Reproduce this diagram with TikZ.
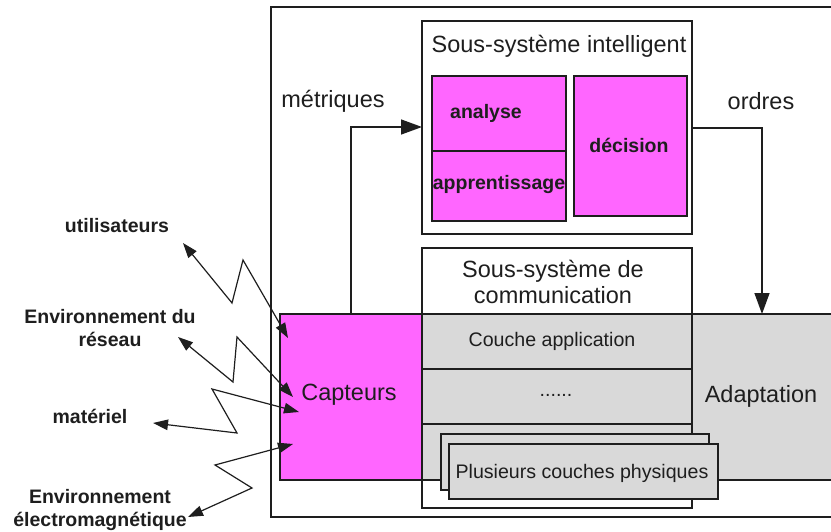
\documentclass[tikz,border=0pt]{standalone}
\usepackage{fontspec}
\setmainfont{Liberation Sans}
\usetikzlibrary{arrows.meta}
\definecolor{mag}{RGB}{255,102,255}
\definecolor{lgray}{RGB}{217,217,217}
\definecolor{ink}{RGB}{30,30,30}
\begin{document}
\begin{tikzpicture}[x=1pt,y=-1pt,
  rect/.style={draw=ink, line width=1.4pt, rectangle, inner sep=0, outer sep=0, anchor=north west},
  lbl/.style={font=\fontsize{23.5}{27}\selectfont, text=ink, inner sep=0, align=center},
  sml/.style={font=\fontsize{19.6}{23}\selectfont, text=ink, inner sep=0},
  bld/.style={font=\bfseries\fontsize{19.5}{23.5}\selectfont, text=ink, inner sep=0, align=center},
  arr/.style={-{Triangle[length=21pt,width=15pt]}, line width=1.4pt, draw=ink},
  zz/.style={{Triangle[length=15pt,width=10.5pt]}-{Triangle[length=15pt,width=10.5pt]}, line width=1.2pt, draw=ink}]
\useasboundingbox (0,0) rectangle (831,532);
% outer frame
\draw[ink, line width=1.2pt] (831,7) -- (271,7) -- (271,517) -- (831,517);
% gray band and capteurs
\node[rect, fill=lgray, minimum width=420pt, minimum height=166pt] (band) at (422,314) {};
\node[rect, fill=mag, minimum width=142pt, minimum height=166pt] (capt) at (280,314) {};
\node[lbl] (capttxt) at (349,395) {Capteurs};
\node[lbl] (adapt) at (761,396) {Adaptation};
% communication subsystem
\node[rect, minimum width=270pt, minimum height=260pt] (comm) at (422,248) {};
\node[lbl] (commtxt) at (553,282) {Sous-système de\\[-1pt]communication};
\coordinate (r1) at (422,369);
\coordinate (r2) at (422,424);
\draw[ink, line width=1.4pt] (r1) -- (r1 -| comm.east);
\draw[ink, line width=1.4pt] (r2) -- (r2 -| comm.east);
\node[sml] (app) at (552,341) {Couche application};
\node[sml] (dots) at (556,395) {......};
\node[rect, fill=lgray, minimum width=268pt, minimum height=56pt] (phys1) at (441,434) {};
\node[rect, fill=lgray, minimum width=269pt, minimum height=55pt] (phys2) at (449,444) {};
\node[sml] (physt) at (582,473) {Plusieurs couches physiques};
% intelligent subsystem
\node[rect, minimum width=270pt, minimum height=213pt] (intel) at (422,21) {};
\node[lbl] (inteltxt) at (559,46) {Sous-système intelligent};
\node[rect, fill=mag, minimum width=134pt, minimum height=145pt] (ana) at (432,76) {};
\draw[ink, line width=1.2pt] (432,151) -- (566,151);
\node[bld] (anat) at (486,113) {analyse};
\node[bld] (appt) at (499,185) {apprentissage};
\node[rect, fill=mag, minimum width=113pt, minimum height=140pt] (dec) at (574,76) {};
\node[bld] (dect) at (629,145) {décision};
% metriques / ordres
\coordinate (mx) at (351,127);
\coordinate (ox) at (762,128);
\draw[arr] (capt.north -| mx) |- (intel.west |- mx);
\draw[arr] (intel.east |- ox) -| (band.north -| ox);
\node[lbl] (met) at (333,101) {métriques};
\node[lbl] (ord) at (761,101) {ordres};
% left labels
\node[bld] (util) at (117,226) {utilisateurs};
\node[bld] (env) at (110,328) {Environnement du\\réseau};
\node[bld] (mat) at (90,416) {matériel};
\node[bld] (em) at (100,510) {Environnement\\électromagnétique};
% zigzag connectors
\coordinate (a1) at (183,243); \coordinate (b1) at (288,338);
\coordinate (a2) at (178,337); \coordinate (b2) at (293,397);
\coordinate (a3) at (153,423); \coordinate (b3) at (299,412);
\coordinate (a4) at (188,517); \coordinate (b4) at (293,444);
\draw[zz] (a1) -- (232,303) -- (243,260) -- (b1);
\draw[zz] (a2) -- (233,382) -- (237,337) -- (b2);
\draw[zz] (a3) -- (237,433) -- (212,389) -- (b3);
\draw[zz] (a4) -- (252,488) -- (215,465) -- (b4);
\end{tikzpicture}
\end{document}
